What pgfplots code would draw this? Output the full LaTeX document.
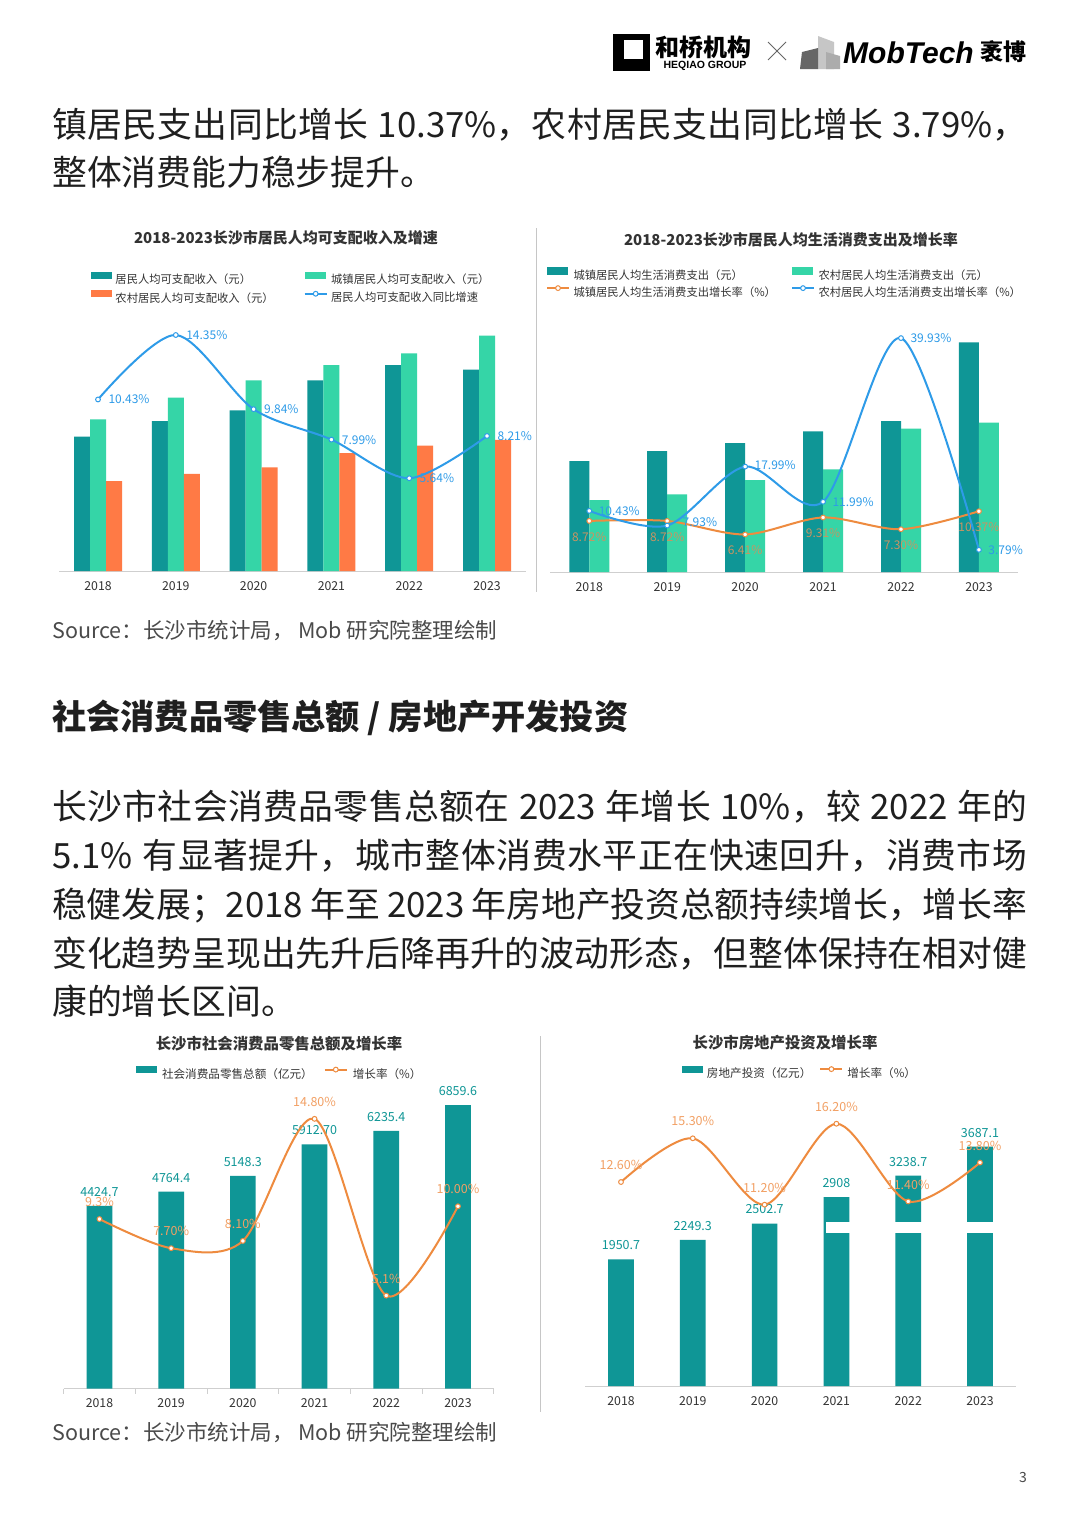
\documentclass[border=0pt]{standalone}
\usepackage{pgfplots}
\pgfplotsset{compat=1.18}
\usepackage{fontspec}
\setmainfont{Noto Sans CJK SC}
\newfontfamily\lib{Liberation Sans}
\definecolor{teal1}{HTML}{0F9696}
\definecolor{mint}{HTML}{35D5A7}
\definecolor{orng}{HTML}{FF7A45}
\definecolor{blu}{HTML}{2E9BE8}
\definecolor{lorng}{HTML}{EE8B3F}
\definecolor{lorlab}{HTML}{F2A064}
\definecolor{tanlab}{HTML}{C99462}
\definecolor{txt}{HTML}{1F1F1F}
\definecolor{gry}{HTML}{4A4A4A}
\definecolor{lab}{HTML}{333333}
\definecolor{axgray}{HTML}{CFCFCF}
\newXeTeXintercharclass\cjkcls
\count255="3000
\loop \XeTeXcharclass\count255=\cjkcls \advance\count255 by 1 \ifnum\count255<"A000 \repeat
\count255="FF00
\loop \XeTeXcharclass\count255=\cjkcls \advance\count255 by 1 \ifnum\count255<"FF60 \repeat
\XeTeXinterchartoks\cjkcls\cjkcls={\hskip0pt plus 1pt minus 0.6pt}
\newcommand\jline[1]{{\XeTeXinterchartokenstate=1 \makebox[975pt][s]{#1}}}
\pgfplotsset{
  barax/.style={scale only axis, xmin=-0.5, xmax=5.5, ymin=0, clip=false,
    axis x line*=bottom, axis y line=none,
    x axis line style={draw=axgray, line width=1pt, -},
    xtick={0,...,5}, xticklabels={2018,2019,2020,2021,2022,2023},
    major tick length=0pt, ytick=\empty,
    xticklabel style={font=\fontsize{12.3}{14}\selectfont, text=lab, inner sep=0pt, yshift=-10pt},
    anchor=south west},
  lineax/.style={scale only axis, xmin=-0.5, xmax=5.5, ymin=0, clip=false, hide axis,
    anchor=south west,
    legend style={draw=none, fill=none, inner sep=0pt, outer sep=0pt, anchor=north west,
      font=\fontsize{11.3}{13}\selectfont, text=lab, nodes={inner sep=0pt},
      row sep=5pt, /tikz/every odd column/.append style={column sep=3.5pt}},
    legend cell align=left},
  barleg/.style={legend image code/.code={\fill[##1, draw=none] (0pt,0.6pt) rectangle (21pt,7.8pt);}},
  lineleg/.style={legend image code/.code={\draw[mark repeat=2,mark phase=2,##1] plot coordinates {(0pt,4.2pt) (11pt,4.2pt) (22pt,4.2pt)};}},
  lnstyle/.style={line width=2pt, smooth, mark=*, mark size=2.4pt, mark options={fill=white, line width=1pt, solid}},
}
\begin{document}
\begin{tikzpicture}
\path[use as bounding box] (0pt,0pt) rectangle (1080pt,-1527pt);
\fill[white] (0pt,0pt) rectangle (1080pt,-1527pt);
% ---------- header logos
\fill[black] (613pt,-34pt) rectangle (650pt,-71pt);
\fill[white] (624pt,-40pt) rectangle (643pt,-59pt);
\node[font=\fontsize{24}{24}\selectfont\bfseries, inner sep=0pt] at (703pt,-47pt) {和桥机构};
\node[font=\lib\fontsize{10.5}{11}\selectfont\bfseries, inner sep=0pt] at (705pt,-66pt) {HEQIAO GROUP};
\draw[gray!80!black, line width=0.8pt] (768pt,-42pt) -- (786pt,-60pt) (768pt,-60pt) -- (786pt,-42pt);
\fill[gray!45] (818pt,-36pt) -- (834pt,-42pt) -- (834pt,-69pt) -- (818pt,-69pt) -- cycle;
\fill[gray!80!black] (802pt,-52pt) -- (818pt,-48pt) -- (818pt,-69pt) -- (800pt,-69pt) -- cycle;
\fill[gray!65] (826pt,-52pt) -- (840pt,-56pt) -- (840pt,-69pt) -- (826pt,-69pt) -- cycle;
\node[font=\lib\fontsize{30}{30}\selectfont\bfseries\itshape, inner sep=0pt, anchor=base west] at (843pt,-63pt) {MobTech};
\node[font=\fontsize{23}{23}\selectfont\bfseries, inner sep=0pt] at (1003pt,-52pt) {袤博};
% ---------- body text
\node[anchor=base west, inner sep=0pt, font=\fontsize{34.8}{49}\selectfont, text=txt] at (52pt,-137pt) {\jline{镇居民支出同比增长 10.37\%，农村居民支出同比增长 3.79\%，}};
\node[anchor=base west, inner sep=0pt, font=\fontsize{34.8}{49}\selectfont, text=txt] at (52pt,-185pt) {整体消费能力稳步提升。};
\node[anchor=base west, inner sep=0pt, font=\fontsize{21.5}{24}\selectfont, text=gry] at (52pt,-638pt) {Source：长沙市统计局， Mob 研究院整理绘制};
\node[anchor=base west, inner sep=0pt, font=\fontsize{34.2}{38}\selectfont\bfseries, text=txt] at (52pt,-729pt) {社会消费品零售总额 / 房地产开发投资};
\node[anchor=base west, inner sep=0pt, font=\fontsize{34.8}{49}\selectfont, text=txt] at (52pt,-819pt) {\jline{长沙市社会消费品零售总额在 2023 年增长 10\%，较 2022 年的}};
\node[anchor=base west, inner sep=0pt, font=\fontsize{34.8}{49}\selectfont, text=txt] at (52pt,-868pt) {\jline{5.1\% 有显著提升，城市整体消费水平正在快速回升，消费市场}};
\node[anchor=base west, inner sep=0pt, font=\fontsize{34.8}{49}\selectfont, text=txt] at (52pt,-917pt) {\jline{稳健发展；2018 年至 2023 年房地产投资总额持续增长，增长率}};
\node[anchor=base west, inner sep=0pt, font=\fontsize{34.8}{49}\selectfont, text=txt] at (52pt,-966pt) {\jline{变化趋势呈现出先升后降再升的波动形态，但整体保持在相对健}};
\node[anchor=base west, inner sep=0pt, font=\fontsize{34.8}{49}\selectfont, text=txt] at (52pt,-1014pt) {康的增长区间。};
\node[anchor=base west, inner sep=0pt, font=\fontsize{21.5}{24}\selectfont, text=gry] at (52pt,-1440pt) {Source：长沙市统计局， Mob 研究院整理绘制};
\node[font=\fontsize{14}{16}\selectfont, text=gry] at (1023pt,-1477pt) {3};
% separators
\draw[gray!45, line width=1pt] (536pt,-228pt) -- (536pt,-592pt);
\draw[gray!45, line width=1pt] (540pt,-1036pt) -- (540pt,-1412pt);
% titles
\node[font=\fontsize{15}{17}\selectfont\bfseries, text=lab] at (286pt,-238pt) {2018-2023长沙市居民人均可支配收入及增速};
\node[font=\fontsize{15}{17}\selectfont\bfseries, text=lab] at (791pt,-240pt) {2018-2023长沙市居民人均生活消费支出及增长率};
\node[font=\fontsize{15.4}{17}\selectfont\bfseries, text=lab] at (279pt,-1044pt) {长沙市社会消费品零售总额及增长率};
\node[font=\fontsize{15.4}{17}\selectfont\bfseries, text=lab] at (785pt,-1043pt) {长沙市房地产投资及增长率};

% ================= Chart 1
\begin{axis}[barax, at={(59.1pt,-571pt)}, width=466.8pt, height=261pt, ymax=87435,
  ybar=0pt, bar width=16pt]
\addplot[fill=teal1, draw=none] coordinates {(0,45000) (1,50250) (2,53830) (3,63880) (4,69010) (5,67440)};
\addplot[fill=mint, draw=none] coordinates {(0,50800) (1,58050) (2,63880) (3,69010) (4,72930) (5,78830)};
\addplot[fill=orng, draw=none] coordinates {(0,30150) (1,32500) (2,34740) (3,39530) (4,41980) (5,43890)};
\end{axis}
\begin{axis}[lineax, at={(59.1pt,-571pt)}, width=466.8pt, height=261pt, ymax=15.87,
  legend columns=2, legend style={at={(0.0683,1.1465)}, /tikz/every even column/.append style={column sep=30pt}}]
\addlegendimage{barleg, fill=teal1}
\addlegendentry{居民人均可支配收入（元）}
\addlegendimage{barleg, fill=mint}
\addlegendentry{城镇居民人均可支配收入（元）}
\addlegendimage{barleg, fill=orng}
\addlegendentry{农村居民人均可支配收入（元）}
\addlegendimage{lineleg, blu, lnstyle}
\addlegendentry{居民人均可支配收入同比增速}
\addplot[forget plot, blu, lnstyle, nodes near coords, point meta=explicit symbolic,
  every node near coord/.append style={font=\fontsize{12}{14}\selectfont, text=blu, anchor=west, xshift=10pt, inner sep=0pt}]
  coordinates {(0,10.43) [10.43\%] (1,14.35) [14.35\%] (2,9.84) [9.84\%] (3,7.99) [7.99\%] (4,5.64) [\raisebox{-7pt}{5.64\%}] (5,8.21) [8.21\%]};
\end{axis}

% ================= Chart 2
\begin{axis}[barax, at={(550.3pt,-572pt)}, width=467.6pt, height=242pt, ymax=72600,
  ybar=0pt, bar width=20pt]
\addplot[fill=teal1, draw=none] coordinates {(0,33300) (1,36300) (2,38700) (3,42210) (4,45300) (5,68910)};
\addplot[fill=mint, draw=none] coordinates {(0,21600) (1,23310) (2,27600) (3,30810) (4,42990) (5,44790)};
\end{axis}
\begin{axis}[lineax, at={(550.3pt,-572pt)}, width=467.6pt, height=242pt, ymax=41.31,
  legend columns=2, legend style={at={(-0.0092,1.2590)}, /tikz/every even column/.append style={column sep=15pt}}]
\addlegendimage{barleg, fill=teal1}
\addlegendentry{城镇居民人均生活消费支出（元）}
\addlegendimage{barleg, fill=mint}
\addlegendentry{农村居民人均生活消费支出（元）}
\addlegendimage{lineleg, lorng, lnstyle}
\addlegendentry{城镇居民人均生活消费支出增长率（\%）}
\addlegendimage{lineleg, blu, lnstyle}
\addlegendentry{农村居民人均生活消费支出增长率（\%）}
\addplot[forget plot, lorng, lnstyle, nodes near coords, point meta=explicit symbolic,
  every node near coord/.append style={font=\fontsize{12}{14}\selectfont, text=tanlab, anchor=center, yshift=-16pt, inner sep=0pt}]
  coordinates {(0,8.72) [8.72\%] (1,8.72) [8.72\%] (2,6.41) [6.41\%] (3,9.31) [9.31\%] (4,7.30) [7.30\%] (5,10.37) [10.37\%]};
\addplot[forget plot, blu, lnstyle, nodes near coords, point meta=explicit symbolic,
  every node near coord/.append style={font=\fontsize{12}{14}\selectfont, text=blu, anchor=west, xshift=9pt, inner sep=0pt}]
  coordinates {(0,10.43) [10.43\%] (1,7.93) [\raisebox{7pt}{\hspace{6pt}7.93\%}] (2,17.99) [\raisebox{4pt}{17.99\%}] (3,11.99) [11.99\%] (4,39.93) [39.93\%] (5,3.79) [3.79\%]};
\end{axis}

% ================= Chart 3
\begin{axis}[barax, at={(63.6pt,-1388.5pt)}, width=430.2pt, height=289pt, ymax=6997.6,
  ybar, bar width=25.7pt,
  extra x ticks={-0.5,0.5,...,5.5}, extra x tick labels={},
  extra x tick style={major tick length=5pt, tick align=outside, tick style={draw=axgray, line width=0.8pt}},
  nodes near coords, point meta=explicit symbolic,
  every node near coord/.append style={font=\fontsize{12.5}{14}\selectfont, text=teal1, anchor=center, yshift=14pt, inner sep=0pt}]
\addplot[fill=teal1, draw=none] coordinates {(0,4424.7) [4424.7] (1,4764.4) [4764.4] (2,5148.3) [5148.3] (3,5912.7) [5912.70] (4,6235.4) [6235.4] (5,6859.6) [6859.6]};
\end{axis}
\begin{axis}[lineax, at={(63.6pt,-1388.5pt)}, width=430.2pt, height=289pt, ymax=15.86,
  legend columns=2, legend style={at={(0.1683,1.1160)}, font=\fontsize{11.6}{13}\selectfont, /tikz/every even column/.append style={column sep=11pt}, /tikz/every odd column/.append style={column sep=5pt}}]
\addlegendimage{barleg, fill=teal1}
\addlegendentry{社会消费品零售总额（亿元）}
\addlegendimage{lineleg, lorng, lnstyle}
\addlegendentry{增长率（\%）}
\addplot[forget plot, lorng, lnstyle, nodes near coords, point meta=explicit symbolic,
  every node near coord/.append style={font=\fontsize{12.5}{14}\selectfont, text=lorlab, anchor=center, yshift=17pt, inner sep=0pt}]
  coordinates {(0,9.3) [9.3\%] (1,7.7) [7.70\%] (2,8.1) [8.10\%] (3,14.8) [14.80\%] (4,5.1) [5.1\%] (5,10.0) [10.00\%]};
\end{axis}

% ================= Chart 4
\begin{axis}[barax, at={(585.1pt,-1386pt)}, width=430.8pt, height=289pt, ymax=4450.6,
  axis y line*=left, y axis line style={draw=axgray, line width=1pt, -},
  ybar, bar width=25.7pt,
  nodes near coords, point meta=explicit symbolic,
  every node near coord/.append style={font=\fontsize{12.5}{14}\selectfont, text=teal1, anchor=center, yshift=14pt, inner sep=0pt}]
\addplot[fill=teal1, draw=none] coordinates {(0,1950.7) [1950.7] (1,2249.3) [2249.3] (2,2502.7) [2502.7] (3,2908) [2908] (4,3238.7) [3238.7] (5,3687.1) [3687.1]};
\end{axis}
\begin{axis}[lineax, at={(585.1pt,-1386pt)}, width=430.8pt, height=289pt, ymax=17.85,
  legend columns=2, legend style={at={(0.2249,1.1090)}, font=\fontsize{11.6}{13}\selectfont, /tikz/every even column/.append style={column sep=8pt}, /tikz/every odd column/.append style={column sep=4pt}}]
\addlegendimage{barleg, fill=teal1}
\addlegendentry{房地产投资（亿元）}
\addlegendimage{lineleg, lorng, lnstyle}
\addlegendentry{增长率（\%）}
\addplot[forget plot, lorng, lnstyle, nodes near coords, point meta=explicit symbolic,
  every node near coord/.append style={font=\fontsize{12.5}{14}\selectfont, text=lorlab, anchor=center, yshift=17pt, inner sep=0pt}]
  coordinates {(0,12.6) [12.60\%] (1,15.3) [15.30\%] (2,11.2) [11.20\%] (3,16.2) [16.20\%] (4,11.4) [11.40\%] (5,13.8) [13.80\%]};
\end{axis}
\fill[white] (826pt,-1222pt) rectangle (993pt,-1233pt);
\end{tikzpicture}
\end{document}
